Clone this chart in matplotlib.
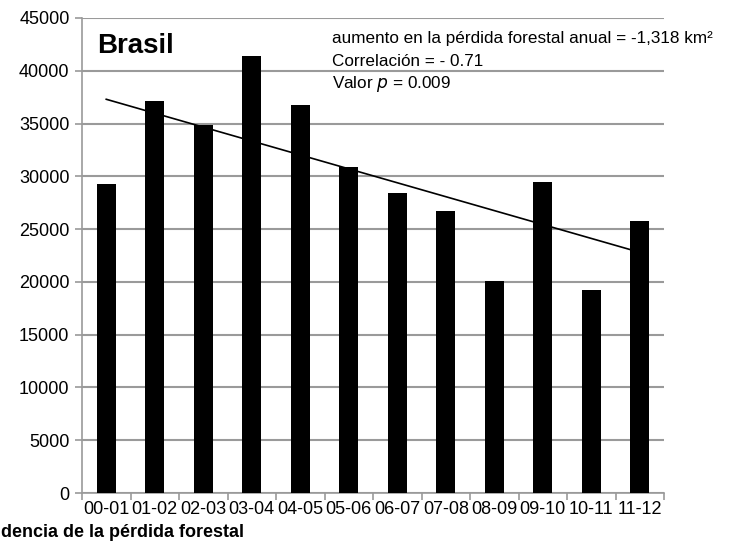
import numpy as np
import matplotlib
matplotlib.use('Agg')
from matplotlib import pyplot as plt

plt.rcParams['font.family'] = ['Liberation Sans', 'DejaVu Sans']

periods = ['00-01', '01-02', '02-03', '03-04', '04-05', '05-06',
           '06-07', '07-08', '08-09', '09-10', '10-11', '11-12']
loss = [29300, 37100, 34900, 41400, 36800, 30900,
        28400, 26700, 20100, 29500, 19200, 25800]
trend_x = [0, 11]
trend_y = [37300, 22800]
yticks = [0, 5000, 10000, 15000, 20000, 25000, 30000, 35000, 40000, 45000]
note_lines = ['aumento en la pérdida forestal anual = -1,318 km²',
              'Correlación = - 0.71',
              'Valor $p$ = 0.009']

grid_col = '#9a9a9a'

fig = plt.figure(figsize=(7.32, 5.52), dpi=100)
ax = fig.add_axes([82 / 732, 1 - 493 / 552, (664 - 82) / 732, (493 - 18) / 552])

x = np.arange(len(periods))
ax.bar(x, loss, width=0.39, color='black', zorder=3)
ax.plot(trend_x, trend_y, color='black', lw=1.2, zorder=4)

ax.set_xlim(-0.5, len(periods) - 0.5)
ax.set_ylim(0, 45000)
ax.set_yticks(yticks)
ax.set_yticklabels([str(v) for v in yticks])
ax.yaxis.grid(True, color=grid_col, lw=1.5, zorder=0)

ax.set_xticks(x)
ax.set_xticklabels(periods)
ax.set_xticks(np.arange(-0.5, len(periods)), minor=True)
ax.tick_params(axis='x', which='major', length=0, labelsize=13, pad=6)
ax.tick_params(axis='x', which='minor', length=5, color=grid_col, width=1.2)
ax.tick_params(axis='y', length=5, color=grid_col, width=1.2, labelsize=13, pad=4)

for s in ['top', 'right']:
    ax.spines[s].set_visible(False)
for s in ['left', 'bottom']:
    ax.spines[s].set_color(grid_col)
    ax.spines[s].set_linewidth(1.2)

ax.text(97 / 732, 1 - 53 / 552, 'Brasil', transform=fig.transFigure,
        fontsize=20, fontweight='bold', ha='left', va='baseline')

# three lines of the note, placed one by one
for line, base in zip(note_lines, [43, 66, 88]):
    fig.text(332 / 732, 1 - base / 552, line, fontsize=12.3,
             ha='left', va='baseline')

fig.text(1 / 732, 1 - 537 / 552, 'dencia de la pérdida forestal',
         fontsize=13, fontweight='bold', ha='left', va='baseline')

fig.savefig('out.png', dpi=100)
